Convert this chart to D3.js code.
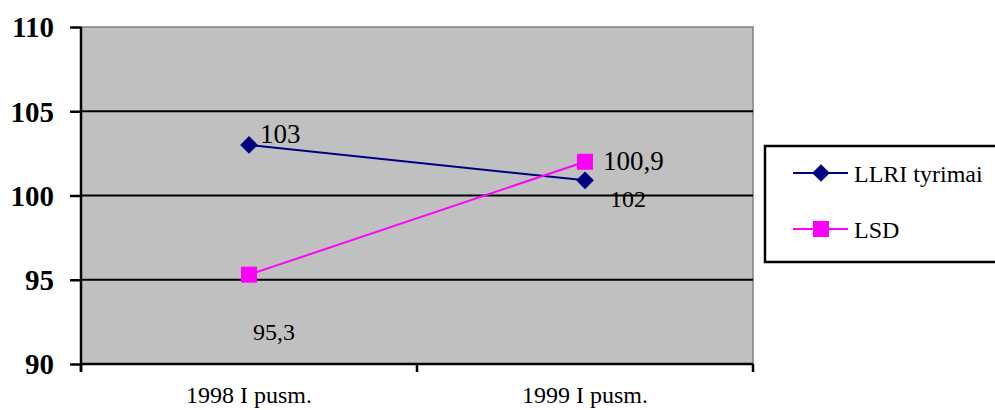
<!DOCTYPE html>
<html><head><meta charset="utf-8">
<script src="https://cdn.jsdelivr.net/npm/d3@7"></script>
<style>html,body{margin:0;padding:0;background:#fff;} svg{display:block;} svg text{font-family:"Liberation Serif","Times New Roman",Tinos,"DejaVu Serif",serif;}</style>
</head><body>
<svg id="c" width="995" height="410"></svg>
<script>
const categories = ["1998 I pusm.", "1999 I pusm."];
const seriesNames = ["LLRI tyrimai", "LSD"];
const llriValues = [103, 100.9];
const lsdValues = [95.3, 102];
const llriLabels = ["103", "102"];
const lsdLabels = ["95,3", "100,9"];
const yTicks = [90, 95, 100, 105, 110];

const svg = d3.select("#c");
const font = "\"Liberation Serif\",\"Times New Roman\",Tinos,\"DejaVu Serif\",serif";
const L = 81, R = 753, T = 27, B = 364;

const x = d3.scaleBand().domain(categories).range([L, R]).padding(0);
const y = d3.scaleLinear().domain([90, 110]).range([B, T]);
const cx = d => x(d) + x.bandwidth() / 2;

// plot area
svg.append("rect").attr("x", L).attr("y", T).attr("width", R - L).attr("height", B - T)
  .attr("fill", "#C0C0C0").attr("stroke", "#808080").attr("stroke-width", 1.5);

// gridlines
svg.append("g").selectAll("line").data(yTicks.filter(t => t > 90 && t < 110)).join("line")
  .attr("x1", L).attr("x2", R).attr("y1", d => y(d)).attr("y2", d => y(d))
  .attr("stroke", "#000").attr("stroke-width", 2);

// y axis
const yAxis = svg.append("g").attr("transform", `translate(${L},0)`)
  .call(d3.axisLeft(y).tickValues(yTicks).tickSize(11).tickPadding(16).tickFormat(d3.format("d")));
yAxis.attr("font-family", null);
yAxis.select(".domain").attr("stroke", "#000").attr("stroke-width", 2.5).attr("d", `M0,${T}V${B + 7}`);
yAxis.selectAll(".tick line").attr("stroke", "#000").attr("stroke-width", 2.5);
yAxis.selectAll("text").style("font-family", font).attr("font-weight", "bold").attr("font-size", 29)
  .attr("fill", "#000").attr("dy", "0.34em");

// x axis
const xAxis = svg.append("g").attr("transform", `translate(0,${B})`)
  .call(d3.axisBottom(x).tickSize(0).tickPadding(22));
xAxis.attr("font-family", null);
xAxis.select(".domain").attr("stroke", "#000").attr("stroke-width", 2.5).attr("d", `M${L},0H${R}`);
xAxis.selectAll("text").style("font-family", font).attr("font-size", 24).attr("fill", "#000");
svg.append("g").selectAll("line").data([L, R, ...categories.slice(1).map(c => x(c))]).join("line")
  .attr("x1", d => d).attr("x2", d => d).attr("y1", B).attr("y2", B + 8)
  .attr("stroke", "#000").attr("stroke-width", 2.5);

const llriColor = "#000080", lsdColor = "#FF00FF";
const line = d3.line().x((d, i) => cx(categories[i])).y(d => y(d));

// LLRI
svg.append("path").datum(llriValues).attr("d", line).attr("fill", "none")
  .attr("stroke", llriColor).attr("stroke-width", 2);
const diamond = d3.symbol().type(d3.symbolDiamond2).size(200);
svg.append("g").selectAll("path").data(llriValues).join("path")
  .attr("d", diamond).attr("transform", (d, i) => `translate(${cx(categories[i])},${y(d)})`)
  .attr("fill", llriColor);

// LSD
svg.append("path").datum(lsdValues).attr("d", line).attr("fill", "none")
  .attr("stroke", lsdColor).attr("stroke-width", 2);
svg.append("g").selectAll("rect").data(lsdValues).join("rect")
  .attr("x", (d, i) => cx(categories[i]) - 8).attr("y", d => y(d) - 8)
  .attr("width", 16).attr("height", 16).attr("fill", lsdColor);

// data labels
const lab = svg.append("g").attr("fill", "#000");
lab.append("text").attr("x", cx(categories[0]) + 11).attr("y", y(llriValues[0]) - 2)
  .attr("font-size", 27).text(llriLabels[0]);
lab.append("text").attr("x", cx(categories[1]) + 25).attr("y", y(llriValues[1]) + 27)
  .attr("font-size", 24).text(llriLabels[1]);
lab.append("text").attr("x", cx(categories[0]) + 4).attr("y", y(lsdValues[0]) + 65)
  .attr("font-size", 24).text(lsdLabels[0]);
lab.append("text").attr("x", cx(categories[1]) + 18).attr("y", y(lsdValues[1]) + 8)
  .attr("font-size", 27).text(lsdLabels[1]);

// legend
const lg = svg.append("g");
lg.append("rect").attr("x", 765).attr("y", 146).attr("width", 240).attr("height", 116)
  .attr("fill", "#fff").attr("stroke", "#000").attr("stroke-width", 2.5);
const legendItems = [
  {name: seriesNames[0], color: llriColor, shape: "diamond", y: 173},
  {name: seriesNames[1], color: lsdColor, shape: "square", y: 229}
];
legendItems.forEach(it => {
  lg.append("line").attr("x1", 793).attr("x2", 848).attr("y1", it.y).attr("y2", it.y)
    .attr("stroke", it.color).attr("stroke-width", 2);
  if (it.shape === "diamond") {
    lg.append("path").attr("d", diamond).attr("transform", `translate(821,${it.y})`).attr("fill", it.color);
  } else {
    lg.append("rect").attr("x", 813).attr("y", it.y - 8).attr("width", 16).attr("height", 16).attr("fill", it.color);
  }
  lg.append("text").attr("x", 854).attr("y", it.y + 9).attr("font-size", 24)
    .attr("fill", "#000").text(it.name);
});
</script>
</body></html>
